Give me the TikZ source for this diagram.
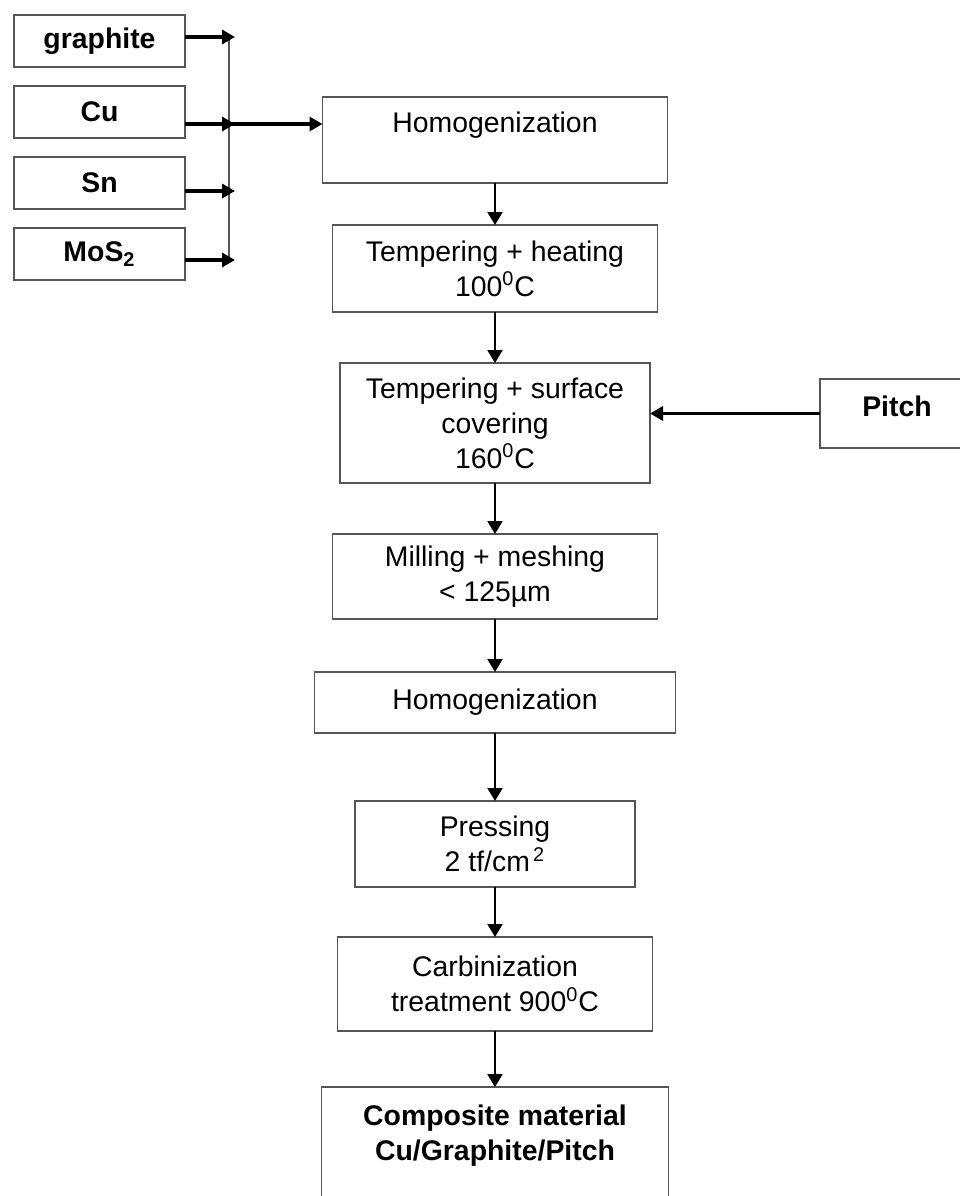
\documentclass[tikz,border=0pt]{standalone}
\usepackage{fontspec}
\setmainfont{Liberation Sans}
\usepackage{tikz}
\usetikzlibrary{arrows.meta, positioning}
\definecolor{grisborde}{HTML}{555555}

\begin{document}
\begin{tikzpicture}[
  x=0.5pt, y=-0.5pt,
  node distance=9.5pt and 85pt,
  font=\fontsize{14.2}{17.5}\selectfont,
  box/.style={
    rectangle, draw=grisborde, fill=white,
    line width=0.7pt, align=center, inner sep=2pt, outer sep=0pt
  },
  inbox/.style={
    box, font=\fontsize{14.2}{17.5}\selectfont\bfseries,
    minimum width=85.5pt, minimum height=26pt
  },
  arr/.style={-{Triangle[length=6.5pt, width=7.5pt]}, line width=1pt},
  feed/.style={-{Triangle[length=6.5pt, width=7pt]}, line width=1.6pt},
  bus/.style={grisborde, line width=0.9pt}
]
  \useasboundingbox (0,0) rectangle (960,1196);

  % raw materials
  \node[inbox] (graphite) at (99.5,41) {graphite};
  \node[inbox, below=of graphite] (cu) {Cu};
  \node[inbox, below=of cu] (sn) {Sn};
  \node[inbox, below=of sn] (mos) {MoS\textsubscript{2}};

  % process chain
  \node[box, minimum width=172.5pt, minimum height=43pt] (homog) at (495,140)
    {Homogenization\\\mbox{}};
  \node[box, minimum width=162.5pt, minimum height=43.5pt, below=21pt of homog] (heat)
    {Tempering + heating\\100\textsuperscript{0}C};
  \node[box, minimum width=155pt, minimum height=60pt, below=25.5pt of heat] (surf)
    {Tempering + surface\\covering\\160\textsuperscript{0}C};
  \node[box, minimum width=162.5pt, minimum height=42.5pt, below=25.5pt of surf] (mill)
    {Milling + meshing\\< 125µm};
  \node[box, minimum width=180.5pt, minimum height=30.5pt, below=26.5pt of mill] (homogb)
    {Homogenization};
  \node[box, minimum width=140pt, minimum height=43pt, below=34pt of homogb] (press)
    {Pressing\\2 tf/cm\textsuperscript{\,2}};
  \node[box, minimum width=157.5pt, minimum height=47pt, below=25pt of press] (carb)
    {Carbinization\\treatment 900\textsuperscript{0}C};
  \node[box, font=\fontsize{14.2}{17.5}\selectfont\bfseries,
        minimum width=173.5pt, minimum height=80.5pt, below=28pt of carb] (comp)
    {Composite material\\Cu/Graphite/Pitch\\\mbox{}\\\mbox{}};

  % binder
  \node[box, font=\fontsize{14.2}{17.5}\selectfont\bfseries,
        minimum width=77pt, minimum height=34.5pt, text depth=7.7pt,
        right=of surf, yshift=4.75pt] (pitch) {Pitch};

  % feed lines into the mixer
  \coordinate (busx) at (229,0);
  \coordinate (tipx) at (235,0);
  \foreach \src/\dy in {graphite/2pt, cu/-6pt, sn/-4pt, mos/-3pt}
    \coordinate (\src-out) at ([yshift=\dy]\src.east);
  \draw[bus] (graphite-out -| busx) -- (mos-out -| busx);
  \foreach \src in {graphite, cu, sn, mos}
    \draw[feed] (\src-out) -- (\src-out -| tipx);
  \draw[feed] (cu-out -| busx) -- (cu-out -| homog.west);

  \foreach \a/\b in {homog/heat, heat/surf, surf/mill, mill/homogb,
                     homogb/press, press/carb, carb/comp}
    \draw[arr] (\a) -- (\b);
  \draw[feed] (pitch) -- (pitch -| surf.east);
\end{tikzpicture}
\end{document}
